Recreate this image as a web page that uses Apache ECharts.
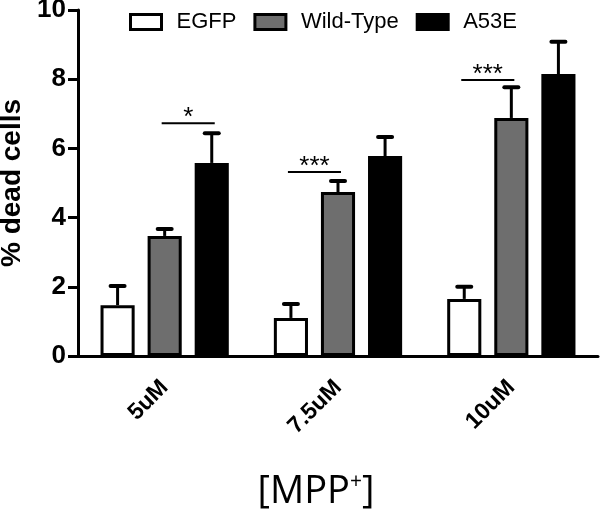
<!DOCTYPE html>
<html><head><meta charset="utf-8">
<script src="https://cdn.jsdelivr.net/npm/echarts@6/dist/echarts.min.js"></script>
<style>html,body{margin:0;padding:0;background:#fff}#c{width:600px;height:511px}</style>
</head><body><div id="c"></div>
<script>
const categories = ['5uM', '7.5uM', '10uM'];
const seriesNames = ['EGFP', 'Wild-Type', 'A53E'];
const egfp = [1.47, 1.1, 1.65];
const egfpErr = [0.55, 0.4, 0.35];
const wt = [3.47, 4.74, 6.88];
const wtErr = [0.2, 0.32, 0.89];
const a53e = [5.58, 5.78, 8.15];
const a53eErr = [0.86, 0.55, 0.93];
const yTicks = [0, 2, 4, 6, 8, 10];
// significance: category index, bar from, bar to, y level, label
const sigCat = [0, 1, 2];
const sigFrom = [1, 0, 0];
const sigTo = [2, 1, 1];
const sigY = [6.73, 5.32, 7.98];
const sigLabel = ['*', '***', '***'];

const colors = ['#ffffff', '#6e6e6e', '#000000'];
const BAR_GAP = 0.38, CAT_GAP = 0.26, N = 3;
function barOffset(bandWidth, i) {
  const barW = bandWidth * (1 - CAT_GAP) / (N + (N - 1) * BAR_GAP);
  return { w: barW, off: (i - (N - 1) / 2) * barW * (1 + BAR_GAP) };
}
const values = [egfp, wt, a53e];
const errs = [egfpErr, wtErr, a53eErr];
const errData = [];
values.forEach((arr, s) => arr.forEach((v, c) => errData.push([c, v, errs[s][c], s])));
const sigData = sigCat.map((c, k) => [c, sigY[k], sigFrom[k], sigTo[k]]);

const chart = echarts.init(document.getElementById('c'), null, { renderer: 'canvas' });
const bars = seriesNames.map((n, i) => ({
  name: n, type: 'bar', data: values[i],
  barGap: (BAR_GAP * 100) + '%', barCategoryGap: (CAT_GAP * 100) + '%',
  itemStyle: { color: colors[i], borderColor: '#000', borderWidth: 3 },
  z: 2
}));
chart.setOption({
  animation: false,
  backgroundColor: '#fff',
  grid: { left: 78, right: 2, top: 10, bottom: 155, containLabel: false, outerBoundsMode: 'none' },
  legend: {
    data: seriesNames, top: 6, left: 124, icon: 'rect', itemWidth: 31, itemHeight: 15, itemGap: 17,
    textStyle: { fontFamily: 'Liberation Sans', fontSize: 22, color: '#000', padding: [0, 0, 0, 10] },
    itemStyle: { borderColor: '#000', borderWidth: 3 }
  },
  xAxis: {
    type: 'category', data: categories,
    axisLine: { lineStyle: { color: '#000', width: 3 } },
    axisTick: { alignWithLabel: true, length: 10, lineStyle: { width: 3, color: '#000' } },
    axisLabel: { rotate: 45, margin: 28, fontFamily: 'Liberation Sans', fontWeight: 'bold', fontSize: 23, color: '#000' },
    name: '[MPP{sup|+}]', nameLocation: 'middle', nameGap: 116,
    nameTextStyle: { fontFamily: 'Open Sans', fontSize: 38, lineHeight: 40, color: '#000', padding: [0, 44, 0, 0],
      rich: { sup: { fontFamily: 'Open Sans', fontSize: 21, lineHeight: 40, verticalAlign: 'top', padding: [0, 0, 14, 0], color: '#000' } } }
  },
  yAxis: {
    type: 'value', min: 0, max: 10, interval: 2,
    axisLine: { show: true, lineStyle: { color: '#000', width: 3 } },
    axisTick: { show: true, length: 10, lineStyle: { width: 3, color: '#000' } },
    splitLine: { show: false },
    axisLabel: { margin: 12, fontFamily: 'Liberation Sans', fontWeight: 'bold', fontSize: 26, color: '#000',
      formatter: v => yTicks.includes(v) ? String(v) : '' },
    name: '% dead cells', nameLocation: 'middle', nameGap: 52,
    nameTextStyle: { fontFamily: 'Liberation Sans', fontWeight: 'bold', fontSize: 28, color: '#000' }
  },
  series: [
    ...bars,
    {
      type: 'custom', data: errData, z: 3,
      encode: { x: 0, y: 1 },
      renderItem: (params, api) => {
        const c = api.value(0), v = api.value(1), e = api.value(2), s = api.value(3);
        const band = api.size([1, 0])[0];
        const { off } = barOffset(band, s);
        const p0 = api.coord([c, v]);
        const p1 = api.coord([c, v + e]);
        const x = p0[0] + off;
        return { type: 'group', children: [
          { type: 'line', shape: { x1: x, y1: p0[1], x2: x, y2: p1[1] }, style: { stroke: '#000', lineWidth: 3 } },
          { type: 'line', shape: { x1: x - 7, y1: p1[1], x2: x + 7, y2: p1[1] }, style: { stroke: '#000', lineWidth: 4, lineCap: 'round' } }
        ]};
      }
    },
    {
      type: 'custom', data: sigData, z: 3,
      encode: { x: 0, y: 1 },
      renderItem: (params, api) => {
        const c = api.value(0), y = api.value(1), f = api.value(2), t = api.value(3);
        const lab = sigLabel[params.dataIndex];
        const band = api.size([1, 0])[0];
        const p = api.coord([c, y]);
        const x1 = p[0] + barOffset(band, f).off - 3;
        const x2 = p[0] + barOffset(band, t).off + 3;
        return { type: 'group', children: [
          { type: 'line', shape: { x1: x1, y1: p[1], x2: x2, y2: p[1] }, style: { stroke: '#000', lineWidth: 2 } },
          { type: 'text', style: { text: lab, x: (x1 + x2) / 2, y: p[1] + 8, textAlign: 'center', textVerticalAlign: 'bottom',
            fontFamily: 'Liberation Sans', fontSize: 26, fill: '#000' } }
        ]};
      }
    }
  ]
});
</script></body></html>
